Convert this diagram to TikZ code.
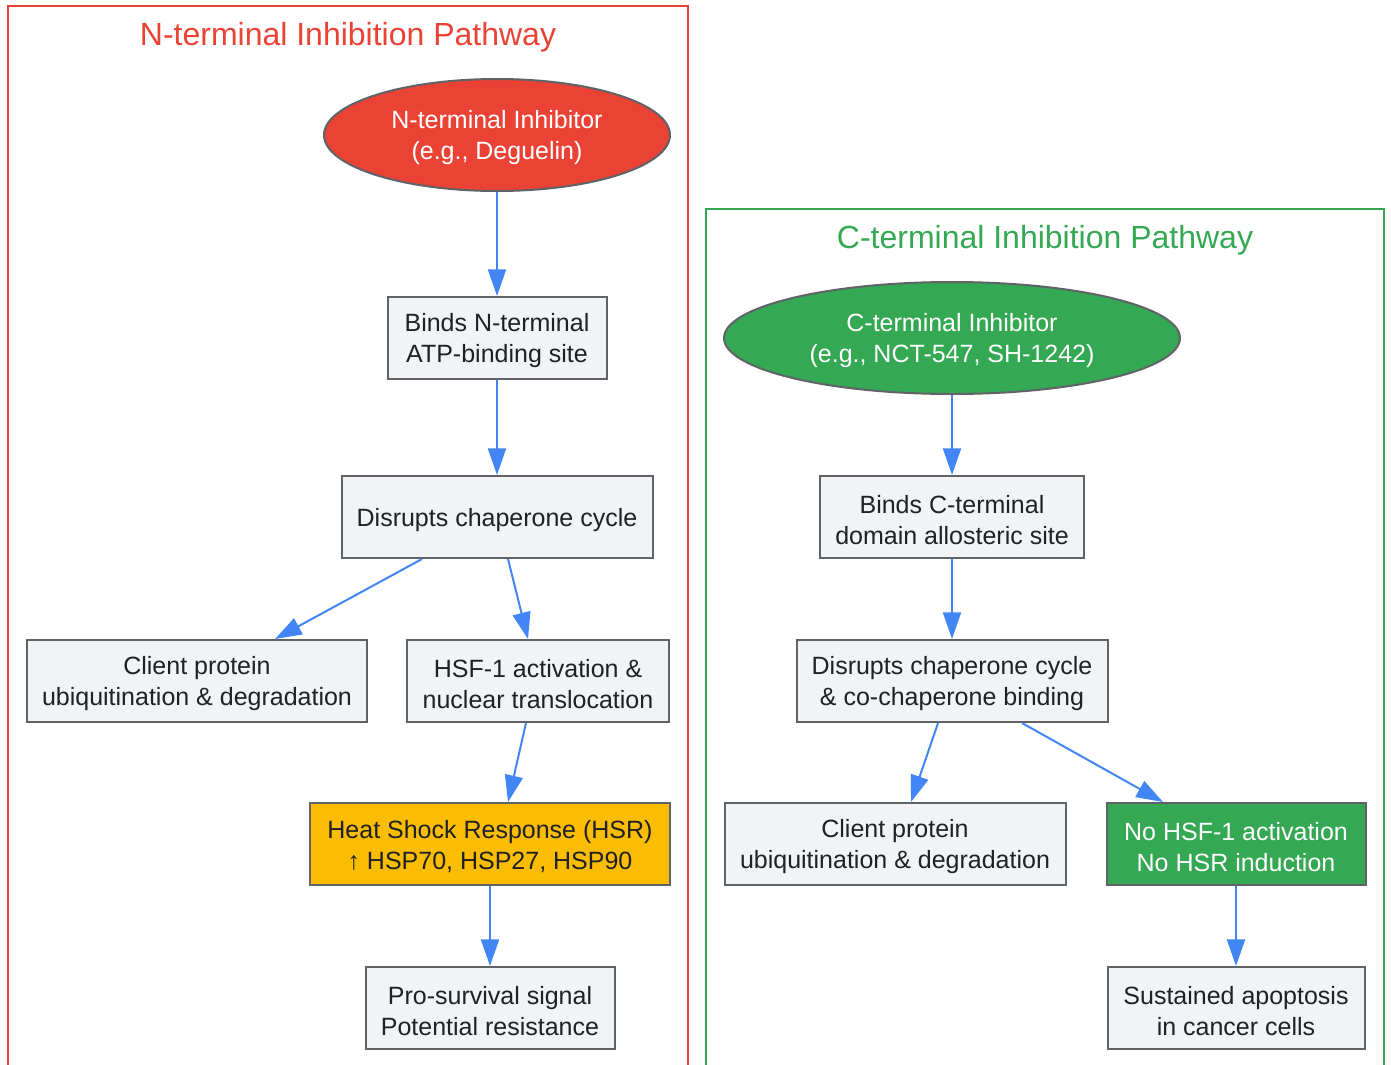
\documentclass[tikz,border=0pt]{standalone}
\usepackage{fontspec}
\setmainfont{Liberation Sans}
\usepackage{tikz}
\usetikzlibrary{arrows.meta,positioning,shapes.geometric}
\definecolor{gred}{HTML}{EA4335}
\definecolor{ggreen}{HTML}{34A853}
\definecolor{gyellow}{HTML}{FBBC04}
\definecolor{gblue}{HTML}{4285F4}
\definecolor{boxfill}{HTML}{F1F3F4}
\definecolor{boxline}{HTML}{5F6368}
\definecolor{boxtext}{HTML}{202124}
\newcommand{\toprow}{\rule{0pt}{17.5pt}}

\begin{document}
\begin{tikzpicture}[
    x=0.75pt, y=-0.75pt,
    font=\fontsize{18.75}{23.25}\selectfont,
    >={Triangle[length=20pt,width=13.5pt]},
    step box/.style={
		rectangle,
		draw=boxline,
		line width=1.5pt,
		fill=boxfill,
		text=boxtext,
		align=center,
		minimum height=61.5pt,
		inner sep=0pt
	},
    drug/.style={
		ellipse,
		draw=boxline,
		line width=1.5pt,
		text=white,
		align=center,
		minimum height=84pt,
		inner sep=0pt
	},
    flow/.style={
		->,
		draw=gblue,
		line width=1.5pt
	},
    cluster/.style={
		draw,
		line width=1.5pt
	},
    cluster title/.style={
		font=\fontsize{24}{29}\selectfont
	}
  ]
  \clip (0,0) rectangle (1391,1064);

  % the two pathway frames
  \draw [cluster, gred] (8,6) rectangle (688,1090);
  \node [cluster title, text=gred] (ntitle) at (348,37) {N-terminal Inhibition Pathway};
  \draw [cluster, ggreen] (706,209) rectangle (1384,1090);
  \node [cluster title, text=ggreen] (ctitle) at (1045,240) {C-terminal Inhibition Pathway};

  % N-terminal side
  \node [drug, fill=gred, minimum width=259.5pt] (ninh) at (497,135)
    {\toprow N-terminal Inhibitor\\(e.g., Deguelin)};
  \node [step box, minimum width=164.25pt] (nbind) at (497,338)
    {\toprow Binds N-terminal\\ATP-binding site};
  \node [step box, minimum width=233.25pt] (ndis) at (497,517)
    {\toprow Disrupts chaperone cycle};
  \node [step box, minimum width=255pt] (nclient) at (197,681)
    {\toprow Client protein\\ubiquitination \& degradation};
  \node [step box, minimum width=196.5pt] (nhsf) at (538,681)
    {\toprow HSF-1 activation \&\\nuclear translocation};
  \node [step box, fill=gyellow, minimum width=270pt] (nhsr) at (490,844)
    {\toprow Heat Shock Response (HSR)\\↑ HSP70, HSP27, HSP90};
  \node [step box, minimum width=186.75pt] (nsurv) at (490,1008)
    {\toprow Pro-survival signal\\Potential resistance};

  % C-terminal side
  \node [drug, fill=ggreen, minimum width=342pt] (cinh) at (952,338)
    {\toprow C-terminal Inhibitor\\(e.g., NCT-547, SH-1242)};
  \node [step box, minimum width=198pt] (cbind) at (952,517)
    {\toprow Binds C-terminal\\domain allosteric site};
  \node [step box, minimum width=233.25pt] (cdis) at (952,681)
    {\toprow Disrupts chaperone cycle\\\& co-chaperone binding};
  \node [step box, minimum width=255.75pt] (cclient) at (895,844)
    {\toprow Client protein\\ubiquitination \& degradation};
  \node [step box, fill=ggreen, text=white, minimum width=194.25pt] (cnohsf) at (1236,844)
    {\toprow No HSF-1 activation\\No HSR induction};
  \node [step box, minimum width=192.75pt] (capop) at (1236,1008)
    {\toprow Sustained apoptosis\\in cancer cells};

  % arrows
  \draw [flow] (ninh) -- (nbind);
  \draw [flow] (nbind) -- (ndis);
  \draw [flow] ([xshift=-56.25pt]ndis.south) -- ([xshift=58.5pt]nclient.north);
  \draw [flow] ([xshift=8.25pt]ndis.south) -- ([xshift=-7.5pt]nhsf.north);
  \draw [flow] ([xshift=-9pt]nhsf.south) -- ([xshift=13.5pt]nhsr.north);
  \draw [flow] (nhsr) -- (nsurv);

  \draw [flow] (cinh) -- (cbind);
  \draw [flow] (cbind) -- (cdis);
  \draw [flow] ([xshift=-10.5pt]cdis.south) -- ([xshift=12pt]cclient.north);
  \draw [flow] ([xshift=52.5pt]cdis.south) -- ([xshift=-54.75pt]cnohsf.north);
  \draw [flow] (cnohsf) -- (capop);

\end{tikzpicture}
\end{document}
